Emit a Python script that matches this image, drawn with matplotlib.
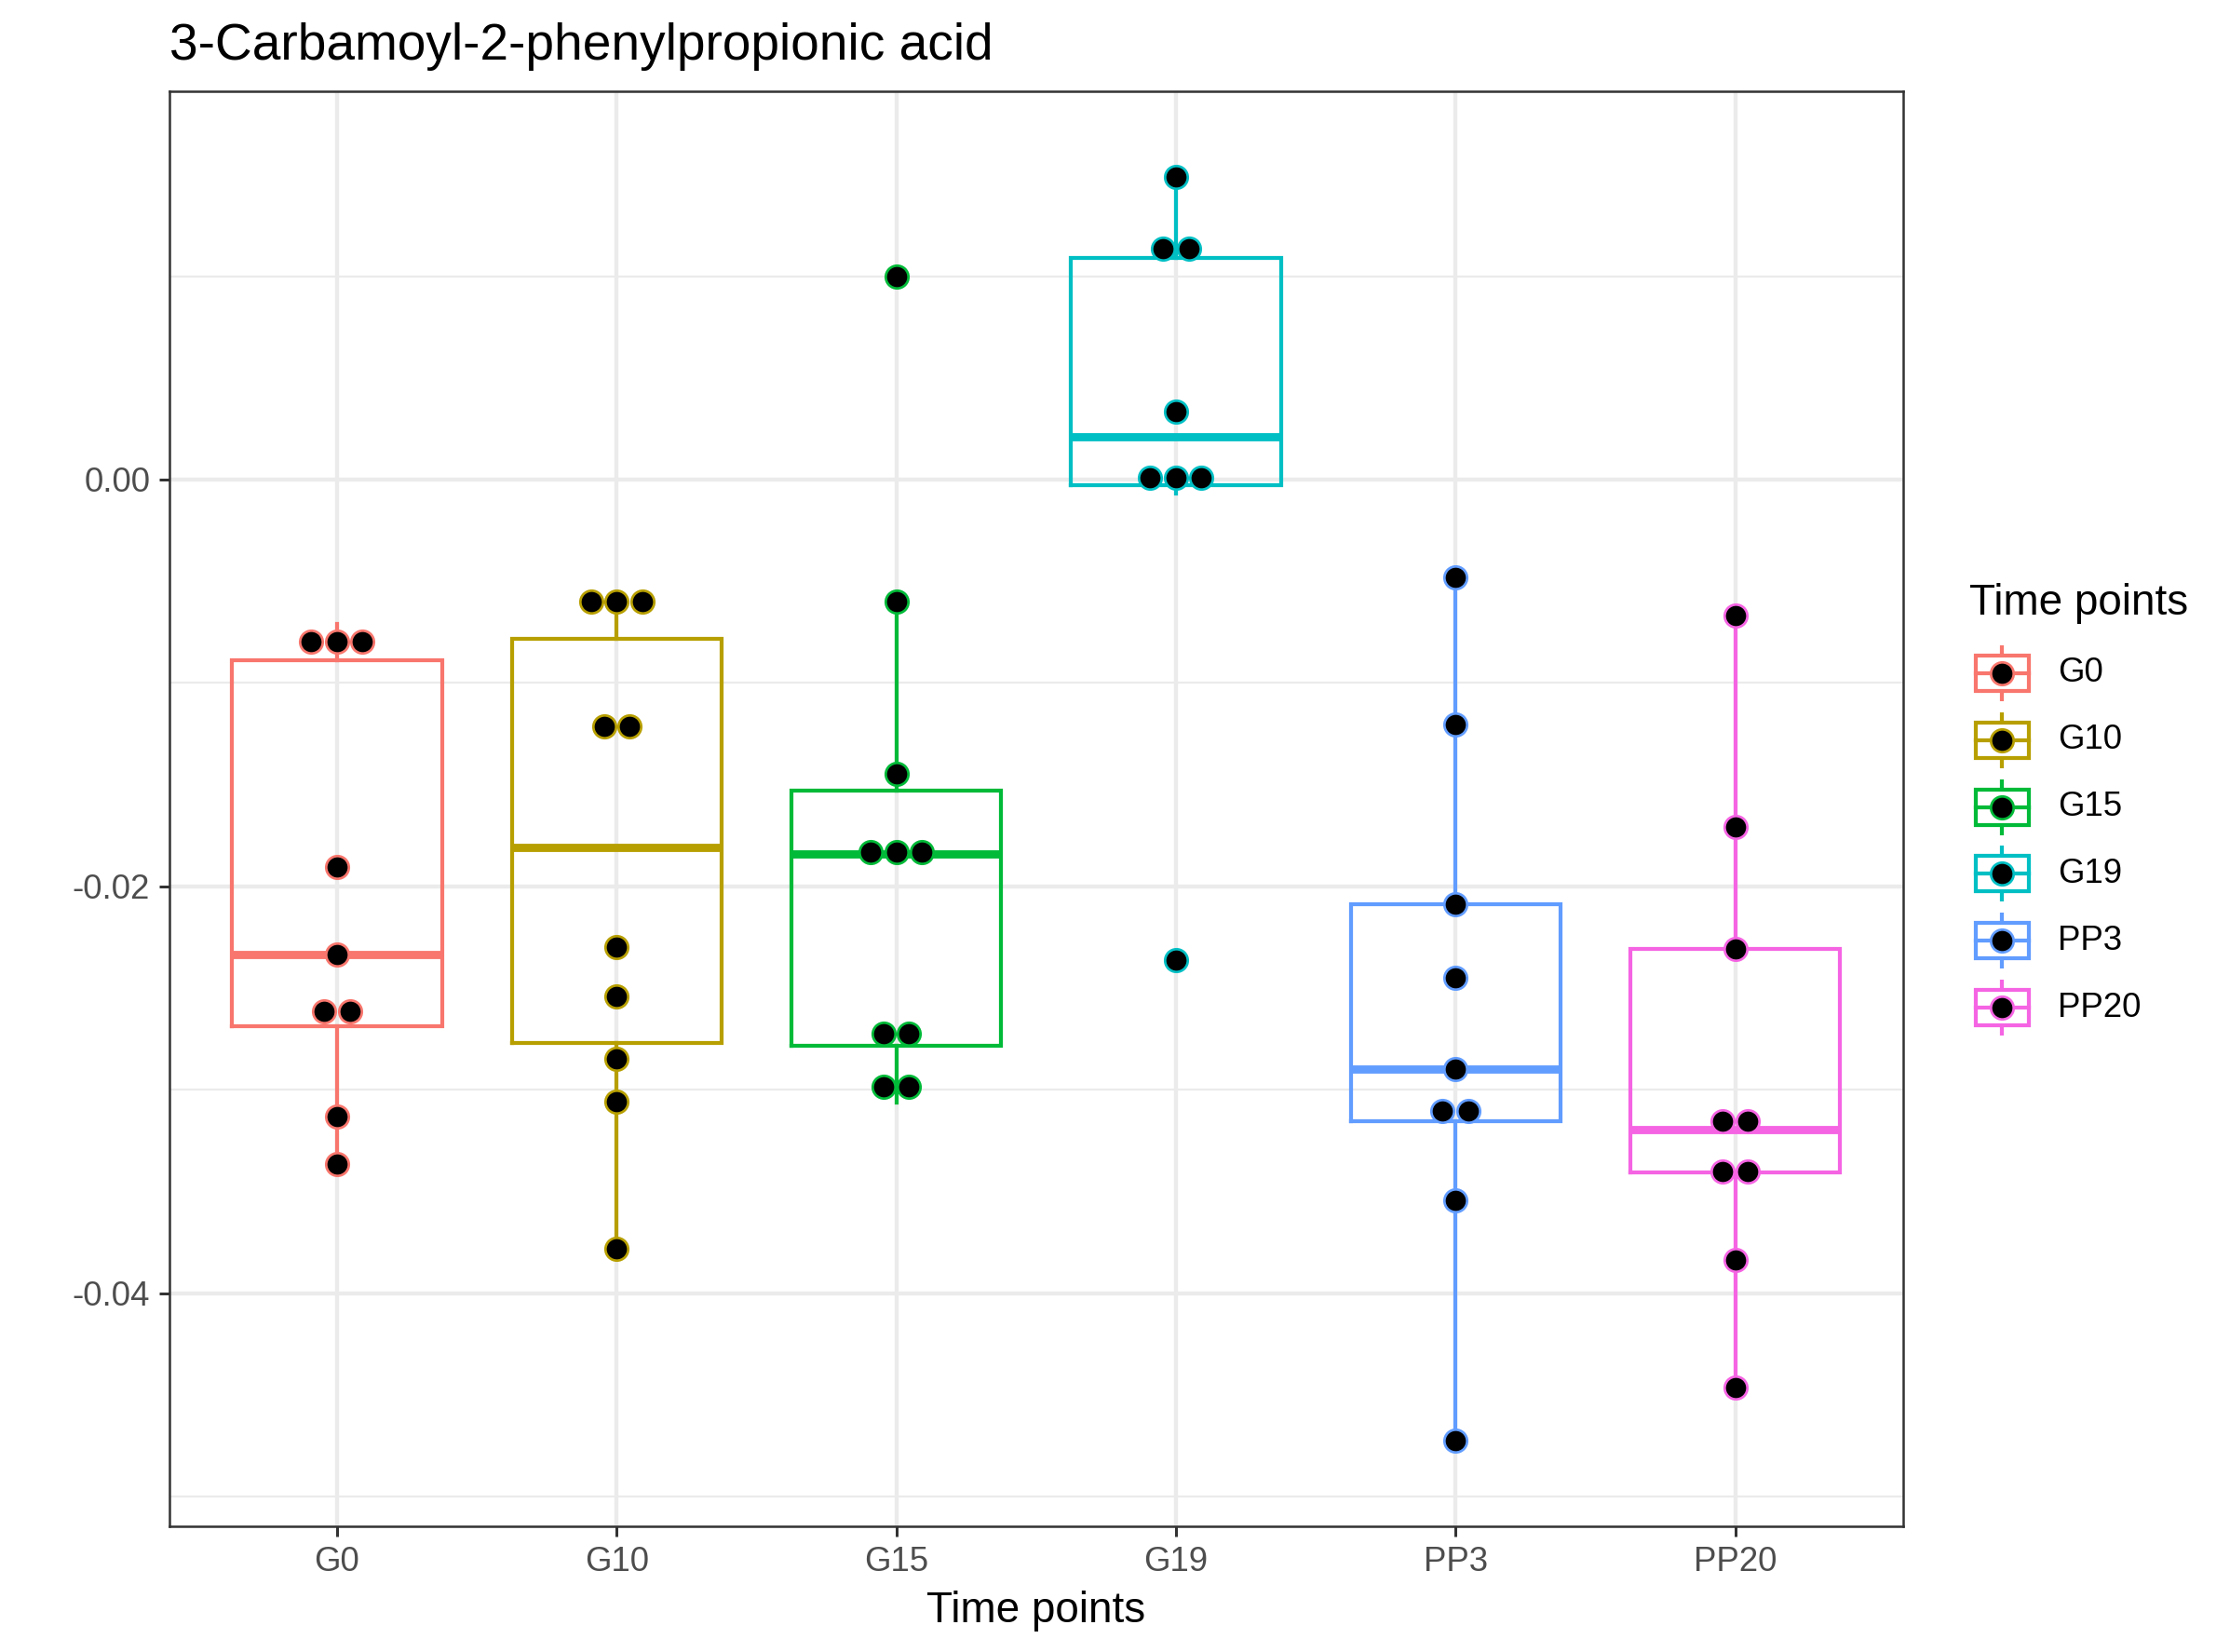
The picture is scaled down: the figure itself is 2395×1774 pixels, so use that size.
import matplotlib
matplotlib.use("Agg")
import matplotlib.pyplot as plt
from matplotlib.patches import Rectangle
import numpy as np

plt.rcParams['font.family'] = ['Liberation Sans', 'DejaVu Sans']
plt.rcParams['axes.unicode_minus'] = False

# ---------------- data ----------------
categories = ["G0", "G10", "G15", "G19", "PP3", "PP20"]
colors = ["#F8766D", "#B79F00", "#00BA38", "#00BFC4", "#619CFF", "#F564E3"]

# dot values (dotplot bins; duplicates are stacked side by side)
dots_G0 = [-0.00799, -0.00799, -0.00799, -0.01905, -0.02336, -0.02615, -0.02615, -0.03133, -0.03367]
dots_G10 = [-0.00601, -0.00601, -0.00601, -0.01216, -0.01216, -0.02300, -0.02541, -0.02848, -0.03061, -0.03783]
dots_G15 = [0.01000, -0.00601, -0.01448, -0.01832, -0.01832, -0.01832, -0.02727, -0.02727, -0.02986, -0.02986]
dots_G19 = [0.01488, 0.01137, 0.01137, 0.00333, 0.00011, 0.00011, 0.00011, -0.02364]
dots_PP3 = [-0.00483, -0.01203, -0.02087, -0.02450, -0.02900, -0.03106, -0.03106, -0.03545, -0.04727]
dots_PP20 = [-0.00671, -0.01706, -0.02309, -0.03156, -0.03156, -0.03401, -0.03401, -0.03836, -0.04467]
dots = [dots_G0, dots_G10, dots_G15, dots_G19, dots_PP3, dots_PP20]

# box statistics
box_q1 = [-0.02687, -0.02769, -0.02783, -0.00026, -0.03155, -0.03408]
box_med = [-0.02336, -0.01809, -0.01839, 0.00211, -0.02900, -0.03197]
box_q3 = [-0.00890, -0.00785, -0.01531, 0.01088, -0.02087, -0.02309]
whisk_lo = [-0.03367, -0.03783, -0.03063, -0.00069, -0.04727, -0.04467]
whisk_hi = [-0.00709, -0.00560, -0.00601, 0.01488, -0.00483, -0.00671]

y_ticks = [0.0, -0.02, -0.04]
y_ticklabels = ["0.00", "-0.02", "-0.04"]
y_minor = [0.01, -0.01, -0.03, -0.05]

title = "3-Carbamoyl-2-phenylpropionic acid"
xlabel = "Time points"
legend_title = "Time points"

# ---------------- figure ----------------
W, H = 2395, 1774
DPI = 300
fig = plt.figure(figsize=(W / DPI, H / DPI), dpi=DPI)
px = 72.0 / DPI  # points per pixel

L, R, T, B = 181.8, 2043.7, 97.8, 1639.0
ax = fig.add_axes([L / W, 1 - B / H, (R - L) / W, (B - T) / H])

pos = np.arange(len(categories))
ax.set_xlim(-0.6, len(categories) - 0.4)
ax.set_ylim(-0.05147, 0.01910)

# grid
for y in y_ticks:
    ax.axhline(y, color="#EBEBEB", lw=4.4 * px, zorder=0.5)
for y in y_minor:
    ax.axhline(y, color="#EBEBEB", lw=2.2 * px, zorder=0.4)
for x in pos:
    ax.axvline(x, color="#EBEBEB", lw=4.4 * px, zorder=0.5)

# boxes
stats = []
for i in range(len(categories)):
    stats.append(dict(med=box_med[i], q1=box_q1[i], q3=box_q3[i],
                      whislo=whisk_lo[i], whishi=whisk_hi[i], fliers=[]))
lw_box = 4.2 * px
res = ax.bxp(stats, positions=pos, widths=0.75, showcaps=False, showfliers=False,
             patch_artist=False, manage_ticks=False)
for i, c in enumerate(colors):
    res['boxes'][i].set(color=c, lw=lw_box, zorder=2, solid_joinstyle='miter')
    res['medians'][i].set(color=c, lw=lw_box * 2.1, zorder=2, solid_capstyle='butt')
    for w in res['whiskers'][2 * i:2 * i + 2]:
        w.set(color=c, lw=lw_box, zorder=2)

# dots
step = 0.0916
msize = 5.85
medge = 0.65
for i, vals in enumerate(dots):
    counts = {}
    for v in vals:
        counts[v] = counts.get(v, 0) + 1
    for v, n in counts.items():
        offs = (np.arange(n) - (n - 1) / 2.0) * step
        ax.plot(pos[i] + offs, [v] * n, linestyle='none', marker='o',
                markersize=msize, markerfacecolor='black', markeredgecolor=colors[i],
                markeredgewidth=medge, zorder=3)

# axes styling
ax.set_yticks(y_ticks)
ax.set_yticklabels(y_ticklabels)
ax.set_xticks(pos)
ax.set_xticklabels(categories)
ax.tick_params(axis='both', length=2.75, width=3 * px, color="#333333",
               labelsize=8.8, labelcolor="#4D4D4D", pad=2.2)
for s in ax.spines.values():
    s.set_color("#333333")
    s.set_linewidth(2.5 * px)
    s.set_zorder(4)

# texts (pixel positions via a figure overlay)
ov = fig.add_axes([0, 0, 1, 1], facecolor='none')
ov.set_xlim(0, W)
ov.set_ylim(H, 0)
ov.axis('off')

ov.text(181.7, 63.5, title, fontsize=13.2, color='black', ha='left', va='baseline')
ov.text((L + R) / 2, 1741.7, xlabel, fontsize=11, color='black', ha='center', va='baseline')

# legend
ov.text(2115, 660, legend_title, fontsize=11, color='black', ha='left', va='baseline')
kx = 2150.3
kw, kh = 57, 38
for i, (lab, c) in enumerate(zip(categories, colors)):
    cy = 722.7 + i * 71.9
    ov.plot([kx, kx], [cy - 30, cy + 30], color=c, lw=lw_box, solid_capstyle='butt', zorder=2)
    ov.add_patch(Rectangle((kx - kw / 2, cy - kh / 2), kw, kh, facecolor='white',
                           edgecolor=c, lw=lw_box, zorder=3))
    ov.plot([kx - kw / 2, kx + kw / 2], [cy, cy], color=c, lw=lw_box, zorder=4)
    ov.plot([kx], [cy], linestyle='none', marker='o', markersize=msize,
            markerfacecolor='black', markeredgecolor=c, markeredgewidth=medge, zorder=5)
    ov.text(2210, cy, lab, fontsize=8.8, color='black', ha='left', va='center')

fig.savefig("out.png", dpi=DPI, facecolor='white')
